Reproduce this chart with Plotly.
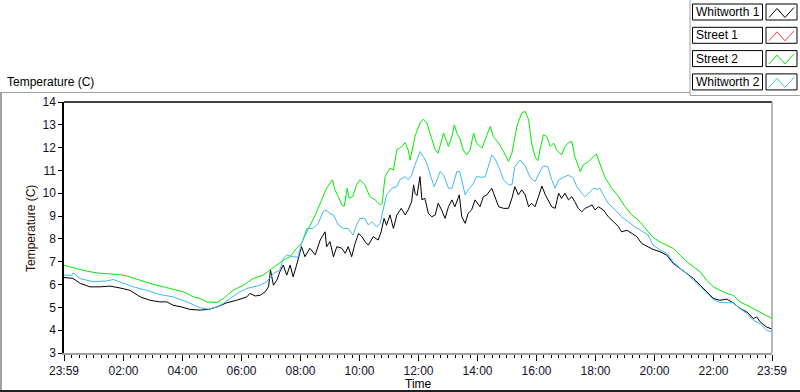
import plotly.graph_objects as go

# ---------------- data (minutes after 23:59 start, temperature in C) ----------------
tick_minutes = [0, 121, 241, 361, 481, 601, 721, 841, 961, 1081, 1201, 1321, 1440]
tick_labels = ["23:59", "02:00", "04:00", "06:00", "08:00", "10:00", "12:00",
               "14:00", "16:00", "18:00", "20:00", "22:00", "23:59"]
y_ticks = [3, 4, 5, 6, 7, 8, 9, 10, 11, 12, 13, 14]

series_names = ["Whitworth 1", "Street 1", "Street 2", "Whitworth 2"]
series_colors = ["#000000", "#ff3f3f", "#00ee00", "#3fb8f8"]

street2_min = [0, 22, 43, 67, 83, 114, 128, 148, 165, 175, 195, 216, 229, 243, 263, 277, 290, 311,
               324, 344, 365, 385, 405, 419, 433, 446, 460, 473, 483, 497, 511, 524, 534, 546, 551,
               558, 565, 570, 576, 580, 587, 595, 602, 612, 622, 633, 643, 647, 653, 663, 670, 677,
               687, 694, 700, 704, 714, 724, 731, 738, 744, 755, 761, 772, 782, 789, 794, 799, 805,
               812, 819, 826, 833, 839, 850, 860, 867, 873, 884, 894, 904, 911, 921, 931, 938, 945,
               951, 958, 964, 968, 975, 982, 989, 996, 1002, 1012, 1019, 1026, 1033, 1039, 1050,
               1056, 1067, 1077, 1083, 1087, 1094, 1101, 1114, 1128, 1141, 1155, 1168, 1182, 1198,
               1212, 1226, 1239, 1253, 1267, 1280, 1294, 1307, 1321, 1334, 1348, 1361, 1375, 1389,
               1402, 1416, 1429, 1440]
street2_temp = [6.85, 6.71, 6.60, 6.51, 6.49, 6.43, 6.37, 6.25, 6.12, 6.05, 5.94, 5.85, 5.78, 5.68,
                5.46, 5.39, 5.24, 5.21, 5.39, 5.75, 5.97, 6.27, 6.41, 6.63, 6.85, 7.07, 7.22, 7.59,
                7.80, 8.46, 9.04, 9.71, 10.22, 10.59, 10.15, 9.85, 9.49, 9.44, 10.22, 9.78, 9.85,
                10.37, 10.59, 10.37, 9.85, 9.71, 9.49, 9.55, 10.73, 11.10, 11.02, 11.90, 12.05,
                12.22, 11.90, 11.46, 12.50, 13.08, 13.25, 13.08, 12.64, 11.90, 11.76, 12.64, 12.05,
                12.49, 13.00, 12.64, 12.42, 11.90, 11.68, 11.90, 12.64, 12.20, 11.98, 12.49, 12.93,
                12.49, 12.20, 11.83, 11.39, 11.76, 12.93, 13.52, 13.59, 13.22, 12.20, 11.61, 11.43,
                11.90, 12.56, 12.49, 12.05, 12.20, 11.90, 11.68, 12.05, 12.22, 12.27, 11.61, 10.95,
                11.24, 11.39, 11.61, 11.72, 11.46, 11.10, 10.66, 10.22, 9.85, 9.41, 9.05, 8.83,
                8.46, 8.07, 7.87, 7.73, 7.59, 7.29, 7.00, 6.78, 6.56, 6.19, 5.90, 5.75, 5.61, 5.53,
                5.24, 5.09, 4.95, 4.80, 4.66, 4.51]

whitworth2_min = [0, 16, 19, 33, 60, 73, 87, 100, 121, 141, 168, 195, 222, 250, 277, 294, 311, 324,
                  338, 358, 372, 385, 399, 412, 426, 439, 446, 453, 466, 476, 483, 494, 507, 517,
                  527, 534, 541, 548, 558, 568, 578, 588, 595, 602, 612, 619, 626, 636, 643, 649,
                  656, 667, 677, 683, 694, 700, 707, 714, 724, 731, 738, 746, 753, 759, 765, 772,
                  782, 789, 799, 805, 816, 822, 833, 839, 850, 857, 863, 870, 877, 884, 894, 904,
                  911, 917, 928, 938, 948, 958, 968, 975, 984, 992, 999, 1006, 1016, 1026, 1036,
                  1043, 1053, 1060, 1070, 1077, 1084, 1090, 1097, 1107, 1121, 1134, 1148, 1161,
                  1175, 1188, 1198, 1212, 1226, 1239, 1253, 1267, 1280, 1294, 1307, 1321, 1334,
                  1361, 1375, 1389, 1402, 1416, 1429, 1440]
whitworth2_temp = [6.41, 6.41, 6.51, 6.26, 6.12, 6.14, 6.16, 6.22, 6.05, 5.90, 5.75, 5.56, 5.46,
                   5.24, 4.98, 4.92, 5.02, 5.17, 5.39, 5.68, 5.83, 5.90, 5.97, 6.12, 6.49, 6.63,
                   7.15, 7.29, 7.22, 7.20, 7.80, 8.46, 8.46, 8.68, 9.19, 9.27, 9.10, 9.05, 8.61,
                   8.46, 8.46, 8.17, 8.61, 8.90, 8.90, 8.61, 8.75, 8.53, 8.68, 9.27, 9.93, 10.22,
                   10.29, 10.59, 10.73, 10.59, 10.80, 11.25, 11.83, 11.60, 11.32, 10.73, 10.29,
                   10.59, 10.95, 10.80, 10.22, 10.22, 10.95, 10.95, 9.93, 10.15, 10.44, 10.73,
                   10.70, 10.73, 11.17, 11.68, 11.50, 11.17, 10.59, 10.37, 10.37, 11.17, 11.46,
                   11.20, 10.70, 10.51, 10.95, 11.20, 11.17, 10.59, 10.22, 10.59, 10.70, 10.80,
                   10.66, 10.29, 10.00, 9.85, 10.07, 10.22, 10.17, 10.22, 9.93, 9.56, 9.27, 8.97,
                   8.75, 8.53, 8.35, 8.17, 7.73, 7.51, 7.37, 7.00, 6.71, 6.49, 6.19, 5.90, 5.61,
                   5.34, 5.21, 5.20, 4.95, 4.73, 4.44, 4.27, 4.00, 3.92]

whitworth1_min = [0, 18, 33, 53, 73, 94, 114, 134, 155, 175, 195, 209, 222, 239, 256, 277, 294,
                  311, 331, 351, 372, 378, 389, 399, 409, 416, 420, 426, 433, 439, 446, 453, 460,
                  466, 473, 477, 483, 490, 500, 511, 521, 531, 534, 541, 548, 555, 565, 572, 578,
                  585, 592, 599, 606, 612, 619, 629, 639, 645, 651, 656, 663, 670, 677, 686, 694,
                  700, 707, 711, 714, 718, 724, 728, 734, 741, 748, 755, 761, 768, 775, 782, 789,
                  795, 804, 809, 816, 822, 829, 836, 846, 853, 860, 870, 877, 884, 894, 904, 911,
                  917, 924, 931, 938, 945, 951, 958, 965, 972, 979, 985, 992, 999, 1006, 1012,
                  1019, 1026, 1033, 1039, 1046, 1053, 1060, 1067, 1074, 1080, 1087, 1097, 1107,
                  1118, 1128, 1134, 1145, 1155, 1165, 1175, 1188, 1198, 1212, 1226, 1239, 1253,
                  1267, 1280, 1294, 1307, 1321, 1334, 1348, 1361, 1375, 1389, 1396, 1402, 1409,
                  1416, 1429, 1436, 1440]
whitworth1_temp = [6.31, 6.27, 6.05, 5.90, 5.90, 5.93, 5.85, 5.75, 5.46, 5.31, 5.24, 5.24, 5.09,
                   5.02, 4.91, 4.88, 4.91, 5.02, 5.20, 5.31, 5.46, 5.61, 5.50, 5.53, 5.68, 5.90,
                   6.63, 5.97, 6.19, 6.56, 6.85, 6.41, 6.85, 6.34, 6.85, 7.15, 7.66, 7.22, 7.59,
                   7.30, 7.95, 8.31, 7.66, 7.88, 7.22, 7.66, 7.59, 7.37, 7.66, 7.22, 7.80, 8.24,
                   8.10, 7.88, 7.73, 8.10, 7.95, 8.31, 8.90, 8.60, 9.05, 8.46, 9.05, 9.34, 9.05,
                   9.27, 9.63, 10.37, 10.00, 9.90, 10.73, 9.71, 9.78, 9.12, 8.97, 9.05, 9.56, 9.27,
                   8.90, 9.41, 9.71, 9.41, 9.93, 8.97, 8.68, 9.12, 9.27, 9.71, 9.41, 9.85, 9.93,
                   10.22, 9.85, 9.41, 9.34, 9.34, 9.78, 10.29, 9.93, 10.15, 9.93, 9.41, 9.56, 9.41,
                   9.85, 10.32, 9.93, 9.71, 9.41, 9.34, 10.00, 9.78, 10.00, 9.71, 9.85, 9.63, 9.34,
                   9.19, 9.34, 9.41, 9.49, 9.27, 9.41, 9.27, 8.97, 8.75, 8.53, 8.31, 8.38, 8.24,
                   8.10, 7.80, 7.66, 7.54, 7.44, 7.29, 6.93, 6.71, 6.49, 6.27, 5.97, 5.68, 5.39,
                   5.31, 5.36, 5.20, 4.95, 4.80, 4.62, 4.51, 4.58, 4.36, 4.14, 4.07, 4.05]

street1_min = []   # no visible data for Street 1
street1_temp = []

# ---------------- layout helpers (pixel -> paper) ----------------
W, H = 800, 392
ML, MR, MT, MB = 64, 28, 102, 39
PW, PH = W - ML - MR, H - MT - MB


def px(x):
    return (x - ML) / PW


def py(y):
    return (H - MB - y) / PH


FONT = "Liberation Sans"

fig = go.Figure()
series = [(whitworth1_min, whitworth1_temp), (street1_min, street1_temp),
          (street2_min, street2_temp), (whitworth2_min, whitworth2_temp)]
for name, color, (xs, ys) in zip(series_names, series_colors, series):
    fig.add_trace(go.Scatter(x=xs, y=ys, mode="lines", name=name,
                             line=dict(color=color, width=1), showlegend=False))

shapes = []
ann = []

# plot frame: top/left black, right/bottom gray
shapes.append(dict(type="line", xref="paper", yref="paper", x0=0, x1=1, y0=1, y1=1,
                   line=dict(color="black", width=1.5)))
shapes.append(dict(type="line", xref="paper", yref="paper", x0=1, x1=1, y0=0, y1=1,
                   line=dict(color="#a0a0a0", width=1.5)))

# outer chart frame
shapes.append(dict(type="line", xref="paper", yref="paper", x0=px(0), x1=px(690),
                   y0=py(92.5), y1=py(92.5), line=dict(color="#a0a0a0", width=1)))
shapes.append(dict(type="line", xref="paper", yref="paper", x0=px(1), x1=px(1),
                   y0=py(92.5), y1=py(392), line=dict(color="#a0a0a0", width=2)))
shapes.append(dict(type="line", xref="paper", yref="paper", x0=px(0), x1=px(800),
                   y0=py(391), y1=py(391), line=dict(color="#202020", width=2)))
# legend frame
shapes.append(dict(type="line", xref="paper", yref="paper", x0=px(690), x1=px(690),
                   y0=py(0), y1=py(95.5), line=dict(color="#a0a0a0", width=1)))
shapes.append(dict(type="line", xref="paper", yref="paper", x0=px(690), x1=px(800),
                   y0=py(95.5), y1=py(95.5), line=dict(color="#a0a0a0", width=1)))

# custom legend
for i, (name, color) in enumerate(zip(series_names, series_colors)):
    top = 4 + i * 23.3
    bot = top + 16
    shapes.append(dict(type="rect", xref="paper", yref="paper", x0=px(692.5), x1=px(762.5),
                       y0=py(bot), y1=py(top), line=dict(color="black", width=1),
                       fillcolor="white"))
    shapes.append(dict(type="rect", xref="paper", yref="paper", x0=px(766), x1=px(797),
                       y0=py(bot), y1=py(top), line=dict(color="black", width=1),
                       fillcolor="white"))
    pts = [(769, bot - 2.5), (777, top + 4.5), (785, bot - 2.5), (794, top + 3.5)]
    path = "M " + " L ".join(f"{px(a)},{py(b)}" for a, b in pts)
    shapes.append(dict(type="path", xref="paper", yref="paper", path=path,
                       line=dict(color=color, width=1)))
    ann.append(dict(xref="paper", yref="paper", x=px(694), y=py((top + bot) / 2),
                    text=name, showarrow=False, xanchor="left", yanchor="middle",
                    font=dict(family=FONT, size=12, color="black")))

# labels
ann.append(dict(xref="paper", yref="paper", x=px(5), y=py(82), text="Temperature (C)",
                showarrow=False, xanchor="left", yanchor="middle",
                font=dict(family=FONT, size=12, color="black")))
ann.append(dict(xref="paper", yref="paper", x=px(31), y=py(229), text="Temperature (C)",
                showarrow=False, textangle=-90, xanchor="center", yanchor="middle",
                font=dict(family=FONT, size=12, color="#2a0a0a")))
ann.append(dict(xref="paper", yref="paper", x=px(418), y=py(384), text="Time",
                showarrow=False, xanchor="center", yanchor="middle",
                font=dict(family=FONT, size=12, color="black")))

fig.update_layout(
    width=W, height=H,
    margin=dict(l=ML, r=MR, t=MT, b=MB, pad=0),
    paper_bgcolor="white", plot_bgcolor="white",
    showlegend=False,
    shapes=shapes, annotations=ann,
    xaxis=dict(range=[0, 1440], tickmode="array", tickvals=tick_minutes, ticktext=tick_labels,
               showgrid=False, zeroline=False, showline=True, linecolor="#a0a0a0", linewidth=1.5,
               ticks="outside", ticklen=6, tickcolor="black", tickwidth=1,
               tickfont=dict(family=FONT, size=12, color="#101030"),
               minor=dict(tickmode="linear", tick0=1, dtick=15, ticks="outside", ticklen=3,
                          tickcolor="black", tickwidth=1, showgrid=False)),
    yaxis=dict(range=[3, 14], tickmode="array", tickvals=y_ticks,
               showgrid=False, zeroline=False, showline=True, linecolor="black", linewidth=1.5,
               ticks="outside", ticklen=4, tickcolor="black", tickwidth=1,
               tickfont=dict(family=FONT, size=12, color="#101030")),
)

fig.write_html(
    "out.html",
    config={"displayModeBar": False},
    post_script="document.body.style.margin='0';document.body.style.padding='0';"
                "document.documentElement.style.overflow='hidden';",
)
